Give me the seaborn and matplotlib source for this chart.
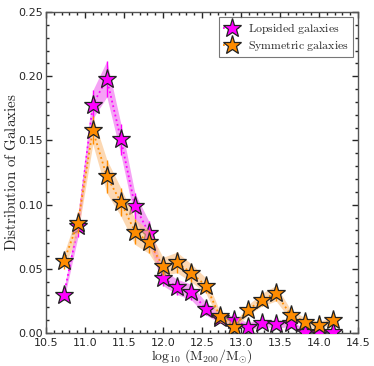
import numpy as np
import pandas as pd
import matplotlib
matplotlib.use("Agg")
import matplotlib.pyplot as plt
import seaborn as sns
from matplotlib.ticker import MultipleLocator

# ---- data ----
mass = [10.73, 10.91, 11.10, 11.28, 11.46, 11.64, 11.82, 12.00, 12.18, 12.36,
        12.55, 12.73, 12.91, 13.09, 13.27, 13.45, 13.64, 13.82, 14.00, 14.18]
lopsided = [0.030, 0.083, 0.178, 0.198, 0.151, 0.099, 0.078, 0.043, 0.036, 0.032,
            0.019, 0.012, 0.010, 0.005, 0.008, 0.007, 0.008, 0.001, 0.000, 0.001]
lopsided_err = [0.004, 0.008, 0.011, 0.014, 0.012, 0.010, 0.009, 0.006, 0.006, 0.006,
                0.005, 0.004, 0.003, 0.003, 0.003, 0.003, 0.003, 0.001, 0.001, 0.001]
symmetric = [0.056, 0.086, 0.158, 0.122, 0.102, 0.079, 0.071, 0.052, 0.055, 0.047,
             0.037, 0.013, 0.005, 0.018, 0.026, 0.031, 0.014, 0.009, 0.006, 0.010]
symmetric_err = [0.006, 0.008, 0.011, 0.013, 0.011, 0.010, 0.009, 0.007, 0.008, 0.007,
                 0.006, 0.004, 0.002, 0.004, 0.005, 0.006, 0.004, 0.003, 0.003, 0.003]
labels = ["Lopsided galaxies", "Symmetric galaxies"]
colors = ["#ff00ff", "#ff8c00"]
band_colors = ["#f070f0", "#fbc48a"]

sns.set_style("ticks")
plt.rcParams["mathtext.fontset"] = "cm"

fig = plt.figure(figsize=(3.74, 3.66), dpi=100)
ax = fig.add_axes([0.123, 0.090, 0.834, 0.877])

series = [(lopsided, lopsided_err), (symmetric, symmetric_err)]
for i, ((vals, errs), lab) in enumerate(zip(series, labels)):
    df = pd.DataFrame({"x": mass, "y": vals, "e": errs})
    lo = np.array(vals) - np.array(errs)
    hi = np.array(vals) + np.array(errs)
    ax.fill_between(df["x"], lo, hi, color=band_colors[i], alpha=0.65, lw=0, zorder=1 + 3 * i)
    ax.errorbar(df["x"], df["y"], yerr=df["e"], fmt="none", ecolor=colors[i],
                elinewidth=1.0, zorder=2 + 3 * i)
    sns.lineplot(data=df, x="x", y="y", ax=ax, color=colors[i], linestyle=":",
                 linewidth=1.3, marker="*", markersize=14, markeredgecolor="#222222",
                 markeredgewidth=0.9, markerfacecolor=colors[i],
                 label=r"$\mathrm{%s}$" % lab.replace(" ", r"\ "), zorder=3 + 3 * i)

ax.set_xlim(10.5, 14.5)
ax.set_ylim(0.0, 0.25)
ax.xaxis.set_major_locator(MultipleLocator(0.5))
ax.xaxis.set_minor_locator(MultipleLocator(0.1))
ax.yaxis.set_major_locator(MultipleLocator(0.05))
ax.yaxis.set_minor_locator(MultipleLocator(0.01))
ax.set_xticklabels([f"{v:.1f}" for v in ax.get_xticks()])
ax.tick_params(which="both", direction="in", top=True, right=True, labelsize=8, pad=2)
ax.tick_params(axis="x", which="both", pad=3.5)
ax.tick_params(which="major", length=4, width=1)
ax.tick_params(which="minor", length=2, width=1)
for s in ax.spines.values():
    s.set_color("#555555")
    s.set_linewidth(1.0)

ax.set_xlabel(r"$\log_{10}\,(\mathrm{M}_{200}/\mathrm{M}_{\odot})$", fontsize=10)
ax.set_ylabel(r"$\mathrm{Distribution\ of\ Galaxies}$", fontsize=10.8)
ax.xaxis.set_label_coords(0.5, -0.045)
ax.yaxis.set_label_coords(-0.085, 0.5)

leg = ax.legend(loc="upper right", fontsize=8.5, frameon=True, fancybox=False,
                edgecolor="#555555", handlelength=1.5, borderpad=0.35, labelspacing=0.25,
                handletextpad=0.6, borderaxespad=0.4)
leg.get_frame().set_linewidth(0.8)

fig.savefig("out.png", dpi=100)
